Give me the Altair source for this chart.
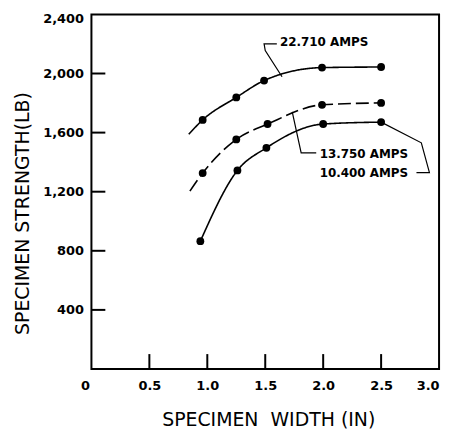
import altair as alt
import pandas as pd

# ---- data ----
series = ["22.710 AMPS", "13.750 AMPS", "10.400 AMPS"]

top_x = [0.84, 0.96, 1.25, 1.49, 1.99, 2.50]
top_y = [1589, 1686, 1838, 1952, 2040, 2044]
top_marker = [False, True, True, True, True, True]

mid_x = [0.85, 0.96, 1.25, 1.52, 1.99, 2.50]
mid_y = [1204, 1326, 1554, 1658, 1788, 1801]
mid_marker = [False, True, True, True, True, True]

low_x = [0.94, 1.26, 1.51, 2.00, 2.50]
low_y = [865, 1344, 1497, 1658, 1671]
low_marker = [True, True, True, True, True]

label_x = [1.627, 1.97, 1.97]
label_y = [2211, 1452, 1326]

lead1_x = [1.60, 1.49, 1.50, 1.645]
lead1_y = [2200, 2200, 2155, 1978]
lead2_x = [1.733, 1.81, 1.94]
lead2_y = [1741, 1463, 1463]
lead3_x = [2.50, 2.847, 2.917, 2.805]
lead3_y = [1671, 1531, 1329, 1329]

x_tick_values = [0.5, 1.0, 1.5, 2.0, 2.5]
x_label_values = [0, 0.5, 1.0, 1.5, 2.0, 2.5, 3.0]
y_tick_values = [400, 800, 1200, 1600, 2000]
y_label_values = [400, 800, 1200, 1600, 2000, 2400]

# ---- tables ----
rows = []
for name, xs, ys, ms in [(series[0], top_x, top_y, top_marker),
                         (series[1], mid_x, mid_y, mid_marker),
                         (series[2], low_x, low_y, low_marker)]:
    for i, (a, b, m) in enumerate(zip(xs, ys, ms)):
        rows.append({"series": name, "x": a, "y": b, "marker": m, "i": i})
curves = pd.DataFrame(rows)

lrows = []
for k, (xs, ys) in enumerate([(lead1_x, lead1_y), (lead2_x, lead2_y), (lead3_x, lead3_y)]):
    for i, (a, b) in enumerate(zip(xs, ys)):
        lrows.append({"lead": k, "x": a, "y": b, "i": i})
leaders = pd.DataFrame(lrows)

labels = pd.DataFrame({"text": series, "x": label_x, "y": label_y})
xt = pd.DataFrame({"x": x_tick_values})
yt = pd.DataFrame({"y": y_tick_values})

W, H = 350, 357
FONT = "DejaVu Sans"

xscale = alt.Scale(domain=[0, 3], nice=False, zero=False)
yscale = alt.Scale(domain=[0, 2400], nice=False)

xaxis = alt.Axis(
    values=x_label_values,
    labelExpr="datum.value == 0 ? '0' : format(datum.value, '.1f')",
    ticks=False, domain=False, grid=False,
    labelPadding=11, labelFont=FONT, labelFontWeight="bold", labelFontSize=13,
    labelColor="black",
    labelOffset={"condition": {"test": "datum.value == 0", "value": -11}, "value": 0},
    titleFont=FONT, titleFontSize=19,
    titleFontWeight="normal", titleColor="black",
    titleX=178, titleY=51, titleBaseline="middle", titleAlign="center",
)
yaxis = alt.Axis(
    values=y_label_values,
    labelExpr="format(datum.value, ',')",
    ticks=False, domain=False, grid=False,
    labelPadding=8, labelFont=FONT, labelFontWeight="bold", labelFontSize=13,
    labelColor="black",
    labelOffset={"condition": {"test": "datum.value == 2400", "value": 4}, "value": 0},
    titleFont=FONT, titleFontSize=19,
    titleFontWeight="normal", titleColor="black",
    titleX=-69.5, titleY=200, titleBaseline="middle", titleAlign="center",
    titleAngle=270,
)
XT = "SPECIMEN\u00a0\u00a0WIDTH (IN)"
YT = "SPECIMEN STRENGTH(LB)"

def X(f="x"):
    return alt.X(f + ":Q", scale=xscale, axis=xaxis, title=XT)

def Y(f="y"):
    return alt.Y(f + ":Q", scale=yscale, axis=yaxis, title=YT)

lines = alt.Chart(curves).mark_line(interpolate="monotone", color="black", strokeWidth=1.6).encode(
    x=X(), y=Y(),
    detail="series:N",
    order="i:Q",
    strokeDash=alt.StrokeDash(
        "series:N",
        scale=alt.Scale(domain=series, range=[[1, 0], [13, 5], [1, 0]]),
        legend=None,
    ),
)

points = alt.Chart(curves).transform_filter("datum.marker").mark_circle(
    size=62, color="black", opacity=1
).encode(x=X(), y=Y())

lead = alt.Chart(leaders).mark_line(color="black", strokeWidth=1.2).encode(
    x=X(), y=Y(),
    detail="lead:N",
    order="i:Q",
)

text = alt.Chart(labels).mark_text(
    align="left", baseline="middle", font=FONT, fontWeight="bold", fontSize=12, color="black"
).encode(x=X(), y=Y(), text="text:N")

yticks = alt.Chart(yt).mark_rule(color="black", strokeWidth=2).encode(
    y=Y(),
    x=alt.value(0), x2=alt.value(14),
)
xticks = alt.Chart(xt).mark_rule(color="black", strokeWidth=2).encode(
    x=X(),
    y=alt.value(H), y2=alt.value(H - 15),
)

chart = alt.layer(lines, yticks, xticks, lead, points, text).properties(
    width=W, height=H,
    autosize=alt.AutoSizeParams(type="none"),
    padding={"left": 84, "top": 5, "right": 8, "bottom": 64},
    background="white",
).configure_view(stroke="black", strokeWidth=2)

chart.save("out.html", embed_options={"renderer": "svg", "actions": False})
